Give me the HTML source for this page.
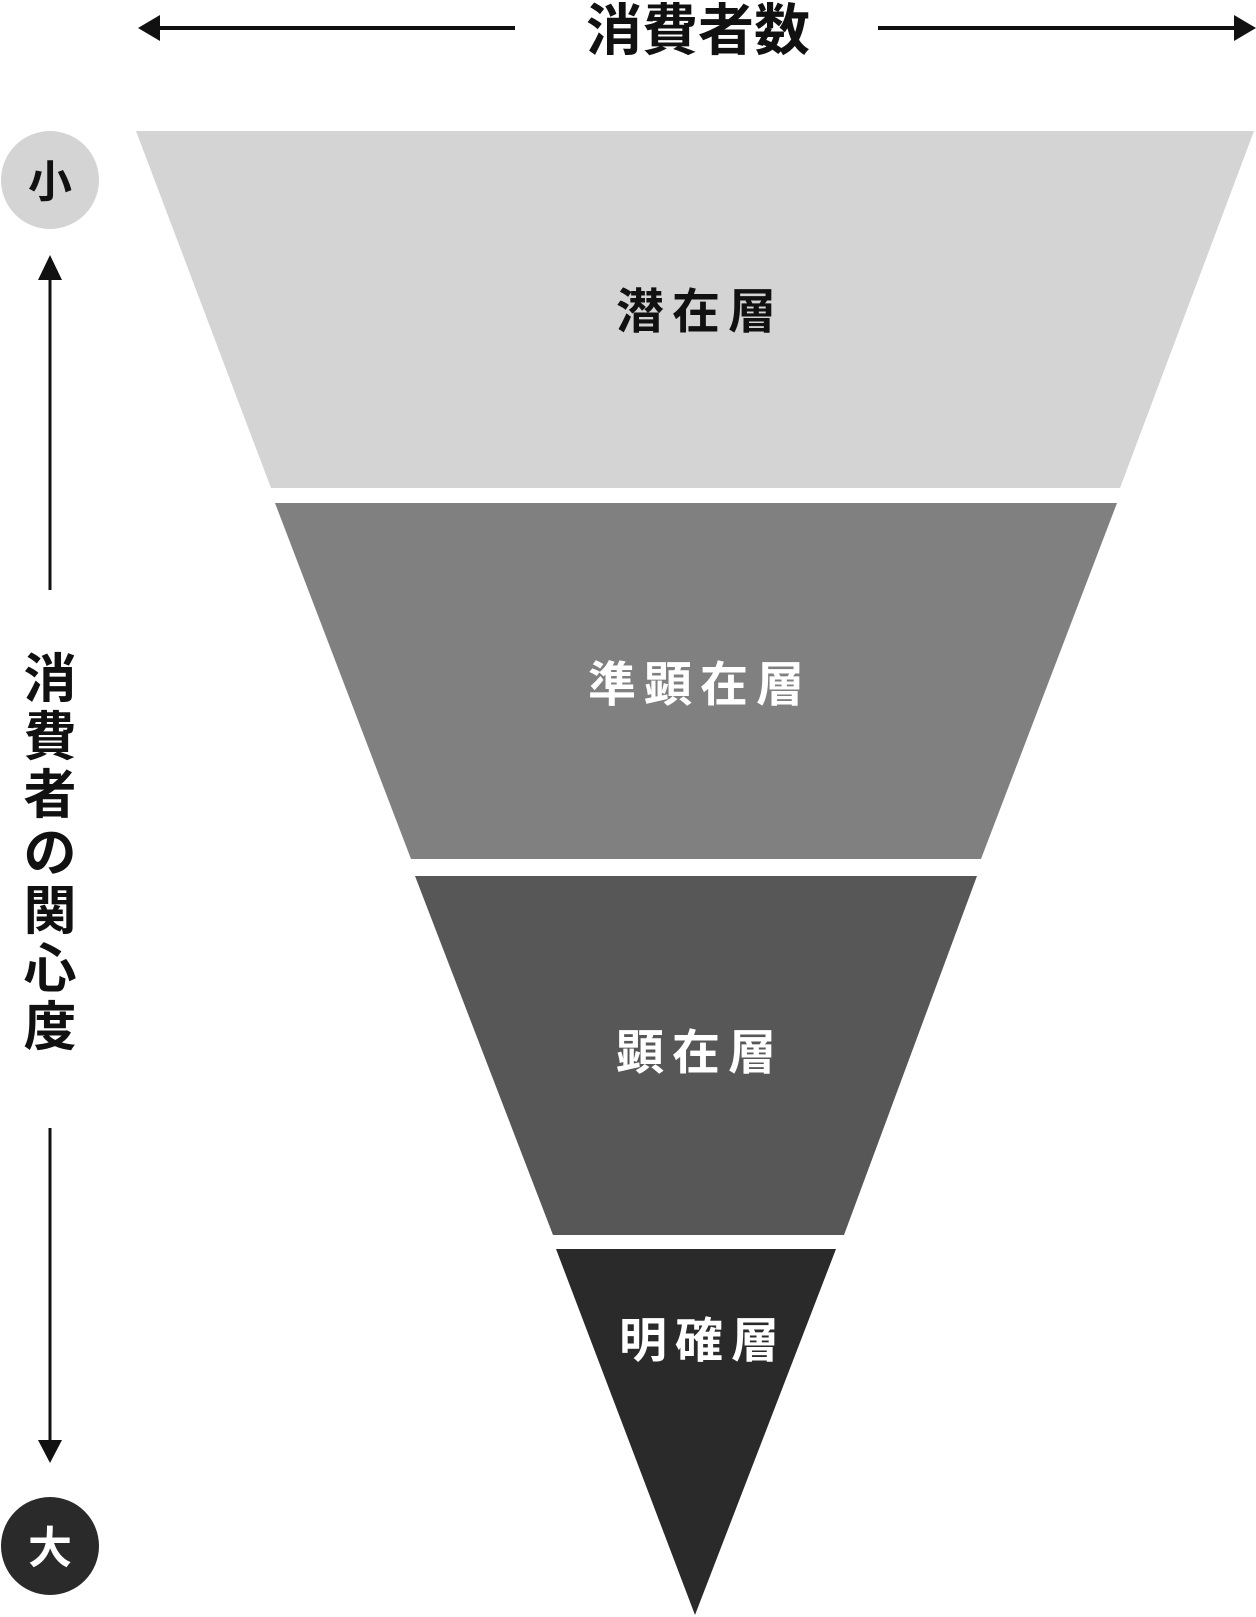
<!DOCTYPE html>
<html><head><meta charset="utf-8"><style>
html,body{margin:0;padding:0;background:#fff}
svg{display:block}
text{font-family:"Liberation Sans","Noto Sans CJK JP",sans-serif;font-weight:bold}
</style></head><body>
<svg width="1256" height="1617" viewBox="0 0 1256 1617" xmlns="http://www.w3.org/2000/svg">
<line x1="150" y1="28" x2="515" y2="28" stroke="#111" stroke-width="4"/>
<polygon points="138,28 160,15 160,41" fill="#111"/>
<line x1="878" y1="28" x2="1240" y2="28" stroke="#111" stroke-width="4"/>
<polygon points="1256,28 1234,15 1234,41" fill="#111"/>
<text x="698" y="50" font-size="56" text-anchor="middle" fill="#111">消費者数</text>
<polygon points="136,131 1254,131 1120,488 271,488" fill="#d4d4d4"/>
<polygon points="275,503 1117,503 981,859 411,859" fill="#808080"/>
<polygon points="415,876 977,876 844,1235 553,1235" fill="#575757"/>
<polygon points="556,1249 836,1249 695,1615" fill="#2a2a2a"/>
<text x="700" y="328" font-size="48" text-anchor="middle" fill="#111" letter-spacing="8">潜在層</text>
<text x="700" y="701" font-size="48" text-anchor="middle" fill="#fff" letter-spacing="8">準顕在層</text>
<text x="700" y="1069" font-size="48" text-anchor="middle" fill="#fff" letter-spacing="8">顕在層</text>
<text x="703" y="1357" font-size="48" text-anchor="middle" fill="#fff" letter-spacing="8">明確層</text>
<circle cx="50" cy="180" r="49" fill="#d4d4d4"/>
<text x="50" y="197" font-size="44" text-anchor="middle" fill="#111">小</text>
<line x1="50" y1="268" x2="50" y2="590" stroke="#111" stroke-width="3"/>
<polygon points="50,255 38,280 62,280" fill="#111"/>
<g font-size="53" fill="#111" text-anchor="middle">
<text x="50" y="697">消</text>
<text x="50" y="755">費</text>
<text x="50" y="813">者</text>
<text x="50" y="871">の</text>
<text x="50" y="929">関</text>
<text x="50" y="987">心</text>
<text x="50" y="1045">度</text>
</g>
<line x1="50" y1="1128" x2="50" y2="1445" stroke="#111" stroke-width="3"/>
<polygon points="50,1463 38,1440 62,1440" fill="#111"/>
<circle cx="50" cy="1546" r="49" fill="#2a2a2a"/>
<text x="50" y="1563" font-size="44" text-anchor="middle" fill="#fff">大</text>
</svg>
</body></html>
